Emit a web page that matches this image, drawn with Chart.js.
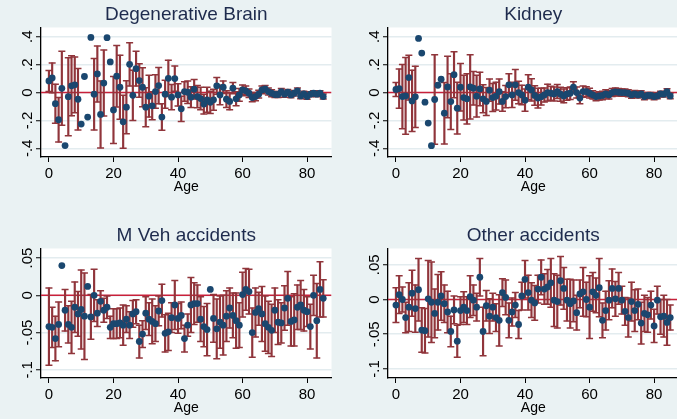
<!DOCTYPE html>
<html>
<head>
<meta charset="utf-8">
<script src="https://cdn.jsdelivr.net/npm/chart.js@4.4.0/dist/chart.umd.min.js"></script>
<style>
  html, body { margin: 0; padding: 0; width: 677px; height: 419px; overflow: hidden; background: #EAF2F3; }
  .panel { position: absolute; width: 337px; height: 198px; }
</style>
</head>
<body>
<div class="panel" style="left:0;top:0"><canvas id="brain" width="337" height="198"></canvas></div>
<div class="panel" style="left:347px;top:0"><canvas id="kidney" width="337" height="198"></canvas></div>
<div class="panel" style="left:0;top:221px"><canvas id="mveh" width="337" height="198"></canvas></div>
<div class="panel" style="left:347px;top:221px"><canvas id="other" width="337" height="198"></canvas></div>
<script>
'use strict';

const ages = [0, 1, 2, 3, 4, 5, 6, 7, 8, 9, 10, 11, 12, 13, 14, 15, 16, 17, 18, 19,
  20, 21, 22, 23, 24, 25, 26, 27, 28, 29, 30, 31, 32, 33, 34, 35, 36, 37, 38, 39,
  40, 41, 42, 43, 44, 45, 46, 47, 48, 49, 50, 51, 52, 53, 54, 55, 56, 57, 58, 59,
  60, 61, 62, 63, 64, 65, 66, 67, 68, 69, 70, 71, 72, 73, 74, 75, 76, 77, 78, 79,
  80, 81, 82, 83, 84, 85];
const xTicks = [0, 20, 40, 60, 80];
const xMin = -2.46;
const xMax = 87.56;

// point estimates and half-width of the 95% interval (null = no interval drawn)
const brainEst = [0.083, 0.105, -0.08, -0.195, 0.03, -0.38, -0.03, 0.048, 0.055, -0.048,
  -0.226, 0.115, -0.176, 0.395, -0.012, 0.133, -0.157, 0.068, 0.393, 0.219,
  -0.125, 0.117, 0.038, -0.21, -0.105, 0.202, -0.02, 0.171, 0.086, 0.038,
  -0.105, -0.026, -0.095, 0.007, 0.05, -0.176, -0.012, 0.102, -0.033, 0.1,
  -0.017, -0.117, 0.007, 0.002, -0.033, 0.024, -0.029, -0.043, -0.083, -0.052,
  -0.07, -0.052, 0.048, -0.017, 0.038, -0.048, -0.064, 0.031, -0.045, -0.017,
  0.019, 0.012, -0.005, -0.036, -0.029, -0.012, 0.019, 0.026, 0.007, -0.005,
  -0.014, -0.014, 0.007, -0.012, 0.002, -0.017, -0.005, 0.012, -0.024, -0.01,
  -0.029, -0.012, -0.005, -0.012, -0.005, -0.029];
const brainCi = [0.075, 0.107, 0.14, 0.16, 0.265, null, 0.28, 0.215, 0.2, 0.22,
  null, null, null, null, 0.256, 0.2, 0.24, 0.236, null, null,
  0.24, 0.22, 0.23, 0.19, 0.19, 0.155, 0.18, 0.125, 0.12, 0.14,
  0.14, 0.15, 0.1, 0.12, 0.13, 0.095, 0.1, 0.13, 0.09, 0.09,
  0.08, 0.09, 0.07, 0.08, 0.075, 0.07, 0.08, 0.08, 0.07, 0.09,
  0.08, 0.075, 0.06, 0.07, 0.045, 0.06, 0.06, 0.04, 0.05, 0.045,
  0.035, 0.035, 0.03, 0.03, 0.03, 0.028, 0.028, 0.025, 0.025, 0.025,
  0.022, 0.022, 0.022, 0.022, 0.02, 0.02, 0.02, 0.02, 0.02, 0.02,
  0.02, 0.018, 0.018, 0.018, 0.018, 0.018];

const kidneyEst = [0.022, 0.028, -0.029, -0.024, 0.107, -0.06, -0.031, 0.388, 0.283, -0.069,
  -0.219, -0.381, -0.05, 0.052, 0.095, -0.148, 0.04, -0.065, 0.128, -0.112,
  0.038, -0.036, -0.045, 0.04, 0.031, -0.026, 0.026, -0.045, -0.064, 0.017,
  -0.036, -0.026, 0.007, -0.064, -0.029, 0.055, -0.017, 0.055, 0.0, -0.017,
  -0.055, 0.038, 0.019, -0.021, -0.04, -0.03, -0.017, 0.0, -0.005, -0.01,
  0.007, -0.012, -0.024, -0.01, -0.005, 0.038, 0.0, -0.04, 0.007, 0.007,
  -0.005, -0.017, -0.029, -0.024, -0.021, -0.01, -0.017, 0.0, 0.005, 0.002,
  0.0, 0.0, -0.005, -0.017, -0.01, -0.017, -0.01, -0.029, -0.021, -0.021,
  -0.029, -0.024, -0.01, -0.012, 0.007, -0.024];
const kidneyCi = [0.05, 0.14, 0.23, 0.275, 0.16, 0.22, 0.22, null, null, null,
  null, null, 0.32, null, null, 0.22, 0.22, 0.2, 0.165, 0.185,
  0.17, 0.16, 0.18, 0.23, 0.12, 0.15, 0.12, 0.1, 0.1, 0.08,
  0.1, 0.1, 0.09, 0.07, 0.08, 0.08, 0.09, 0.11, 0.08, 0.07,
  0.08, 0.09, 0.08, 0.07, 0.07, 0.06, 0.05, 0.06, 0.05, 0.05,
  0.05, 0.05, 0.05, 0.045, 0.045, 0.04, 0.04, 0.04, 0.04, 0.035,
  0.035, 0.03, 0.03, 0.03, 0.03, 0.03, 0.03, 0.028, 0.028, 0.026,
  0.026, 0.025, 0.025, 0.024, 0.024, 0.023, 0.023, 0.022, 0.022, 0.022,
  0.022, 0.02, 0.02, 0.02, 0.02, 0.02];

const mvehEst = [-0.042, -0.043, -0.058, -0.039, 0.04, -0.02, -0.039, -0.043, -0.016, -0.025,
  -0.019, -0.028, 0.012, -0.029, 0.0, -0.024, -0.008, -0.02, -0.016, -0.043,
  -0.038, -0.038, -0.037, -0.04, -0.032, -0.04, -0.025, -0.022, -0.062, -0.052,
  -0.024, -0.032, -0.035, -0.038, -0.021, -0.007, -0.051, -0.049, -0.03, -0.013,
  -0.031, -0.027, -0.058, -0.04, -0.013, -0.011, -0.011, -0.032, -0.042, -0.046,
  0.008, -0.031, -0.045, -0.036, -0.04, -0.028, -0.017, -0.027, -0.034, -0.04,
  0.001, 0.008, 0.005, -0.05, -0.023, -0.018, -0.025, -0.038, -0.043, -0.047,
  -0.02, -0.036, -0.037, -0.017, -0.004, -0.035, -0.033, -0.016, -0.013, -0.02,
  -0.022, -0.042, 0.0, -0.034, 0.008, -0.004];
const mvehCi = [0.052, 0.027, 0.03, 0.03, null, 0.028, 0.025, 0.035, 0.034, 0.03,
  0.053, 0.058, null, 0.03, 0.035, 0.018, 0.014, 0.016, 0.015, 0.015,
  0.02, 0.02, 0.02, 0.027, 0.018, 0.018, 0.018, 0.016, 0.022, 0.018,
  0.022, 0.022, 0.03, 0.024, 0.02, 0.022, 0.025, 0.025, 0.02, 0.033,
  0.02, 0.018, 0.018, 0.015, 0.037, 0.028, 0.025, 0.03, 0.027, 0.035,
  null, 0.032, 0.04, 0.035, 0.04, 0.034, 0.027, 0.03, 0.037, 0.03,
  0.03, 0.028, 0.03, 0.033, 0.033, 0.022, 0.037, 0.037, 0.035, 0.035,
  0.03, 0.03, 0.027, 0.03, 0.036, 0.033, 0.035, 0.03, 0.033, 0.028,
  0.02, 0.03, 0.027, 0.05, 0.037, 0.025];

const otherEst = [-0.008, 0.007, 0.0, -0.026, -0.011, 0.009, -0.013, 0.014, -0.044, -0.045,
  0.001, -0.004, -0.02, -0.004, 0.005, -0.006, -0.018, -0.046, -0.015, -0.06,
  -0.016, -0.011, -0.016, 0.004, -0.001, -0.011, 0.032, -0.046, -0.009, -0.024,
  -0.011, -0.026, -0.03, 0.01, 0.003, -0.03, -0.018, -0.008, -0.036, 0.005,
  0.029, 0.01, -0.001, -0.005, 0.015, 0.032, 0.015, 0.018, 0.024, -0.001,
  -0.003, 0.027, 0.016, -0.001, -0.006, -0.002, -0.019, 0.008, 0.011, 0.0,
  -0.011, 0.011, 0.006, 0.017, -0.03, -0.016, -0.001, 0.016, 0.001, 0.016,
  -0.001, -0.017, -0.026, -0.003, -0.016, -0.007, -0.034, -0.02, -0.022, -0.008,
  -0.038, -0.001, -0.025, -0.024, -0.033, -0.026];
const otherCi = [0.025, 0.027, 0.018, 0.022, 0.035, 0.033, 0.034, 0.045, 0.032, 0.032,
  0.055, 0.058, 0.035, 0.04, 0.035, 0.027, 0.03, 0.022, 0.02, 0.023,
  0.02, 0.022, 0.02, 0.03, 0.022, 0.02, 0.027, 0.035, 0.022, 0.025,
  0.02, 0.02, 0.037, 0.02, 0.025, 0.025, 0.02, 0.018, 0.02, 0.02,
  0.027, 0.025, 0.025, 0.025, 0.02, 0.025, 0.022, 0.025, 0.035, 0.038,
  0.038, 0.035, 0.03, 0.03, 0.035, 0.03, 0.025, 0.02, 0.035, 0.025,
  0.045, 0.028, 0.025, 0.042, 0.025, 0.028, 0.028, 0.028, 0.025, 0.023,
  0.02, 0.02, 0.028, 0.028, 0.03, 0.022, 0.03, 0.026, 0.025, 0.02,
  0.024, 0.02, 0.025, 0.03, 0.033, 0.018];

const wideTicks = [-0.4, -0.2, 0, 0.2, 0.4];
const narrowTicks = [-0.1, -0.05, 0, 0.05];

const colors = {
  dot: '#1A476F',
  bar: '#90353B',
  zero: '#C8203A',
  grid: '#E3ECEF',
  axis: '#000000',
  title: '#1E2B4D',
};
const family = '"Liberation Sans", Arial, Helvetica, sans-serif';

// Stata style tick labels: .4, -.2, 0, .05
const stataLabel = (v) => {
  if (v === 0) return '0';
  return (v < 0 ? '-' : '') + String(Math.abs(v)).replace(/^0/, '');
};

const plotBackground = {
  id: 'plotBackground',
  beforeDraw(chart) {
    const { ctx, chartArea: a } = chart;
    ctx.save();
    ctx.fillStyle = '#ffffff';
    ctx.fillRect(a.left, a.top, a.right - a.left, a.bottom - a.top);
    ctx.restore();
  },
};

// y tick labels turned 90 degrees, as Stata draws them
const rotatedYLabels = {
  id: 'rotatedYLabels',
  afterDraw(chart) {
    const { ctx, chartArea } = chart;
    const scale = chart.scales.y;
    ctx.save();
    ctx.font = `15px ${family}`;
    ctx.fillStyle = '#000';
    ctx.textAlign = 'center';
    ctx.textBaseline = 'alphabetic';
    scale.ticks.forEach((t) => {
      const py = scale.getPixelForValue(t.value);
      ctx.save();
      ctx.translate(chartArea.left - 9.5, py);
      ctx.rotate(-Math.PI / 2);
      ctx.fillText(stataLabel(t.value), 0, 0);
      ctx.restore();
    });
    ctx.restore();
  },
};

const renderPanel = (canvasId, title, est, ci, yTicks, yMin, yMax) => {
  const points = ages.map((a, i) => ({ x: a, y: est[i] }));
  const withCi = ages.map((a, i) => i).filter((i) => ci[i] !== null);
  const bars = withCi.map((i) => ({ x: ages[i], y: [est[i] - ci[i], est[i] + ci[i]] }));
  const caps = withCi.flatMap((i) => [
    { x: ages[i], y: est[i] - ci[i] },
    { x: ages[i], y: est[i] + ci[i] },
  ]);

  return new Chart(document.getElementById(canvasId), {
    type: 'scatter',
    data: {
      datasets: [
        {
          type: 'scatter',
          data: points,
          pointRadius: 3.4,
          pointBackgroundColor: colors.dot,
          pointBorderWidth: 0,
          order: 0,
        },
        {
          type: 'scatter',
          data: caps,
          pointStyle: 'line',
          pointRadius: 3.5,
          pointBorderColor: colors.bar,
          pointBorderWidth: 1.5,
          order: 1,
        },
        {
          type: 'bar',
          data: bars,
          barThickness: 1.5,
          backgroundColor: colors.bar,
          borderWidth: 0,
          order: 2,
        },
        {
          type: 'line',
          data: [{ x: xMin, y: 0 }, { x: xMax, y: 0 }],
          borderColor: colors.zero,
          borderWidth: 1.5,
          pointRadius: 0,
          order: 3,
        },
      ],
    },
    options: {
      responsive: false,
      animation: false,
      devicePixelRatio: 1,
      events: [],
      layout: { padding: { left: 0, right: 3, top: 0, bottom: 0 } },
      scales: {
        x: {
          type: 'linear',
          min: xMin,
          max: xMax,
          offset: false,
          afterBuildTicks: (s) => { s.ticks = xTicks.map((v) => ({ value: v })); },
          afterFit: (s) => { s.height = 41; },
          grid: { drawOnChartArea: false, offset: false, tickLength: 5, tickColor: colors.axis, tickWidth: 1 },
          border: { color: colors.axis, width: 1.3 },
          ticks: {
            font: { family, size: 15 },
            color: '#000',
            padding: 3,
            maxRotation: 0,
            autoSkip: false,
            callback: (v) => String(v),
          },
          title: {
            display: true,
            text: 'Age',
            font: { family, size: 14 },
            color: '#000',
            padding: { top: 0, bottom: 2.4 },
          },
        },
        y: {
          type: 'linear',
          min: yMin,
          max: yMax,
          afterBuildTicks: (s) => { s.ticks = yTicks.map((v) => ({ value: v })); },
          afterFit: (s) => { s.width = 41; },
          grid: { color: colors.grid, lineWidth: 1.5, tickLength: 5, tickColor: colors.axis, tickWidth: 1 },
          border: { color: colors.axis, width: 1.3 },
          ticks: { display: false },
        },
      },
      plugins: {
        legend: { display: false },
        tooltip: { enabled: false },
        title: {
          display: true,
          text: title,
          fullSize: false,
          color: colors.title,
          font: { family, size: 19, weight: 'normal' },
          padding: { top: 3.1, bottom: 1.6 },
        },
      },
    },
    plugins: [plotBackground, rotatedYLabels],
  });
};

renderPanel('brain', 'Degenerative Brain', brainEst, brainCi, wideTicks, -0.462, 0.466);
renderPanel('kidney', 'Kidney', kidneyEst, kidneyCi, wideTicks, -0.462, 0.466);
renderPanel('mveh', 'M Veh accidents', mvehEst, mvehCi, narrowTicks, -0.111, 0.0629);
renderPanel('other', 'Other accidents', otherEst, otherCi, narrowTicks, -0.113, 0.0734);
</script>
</body>
</html>
